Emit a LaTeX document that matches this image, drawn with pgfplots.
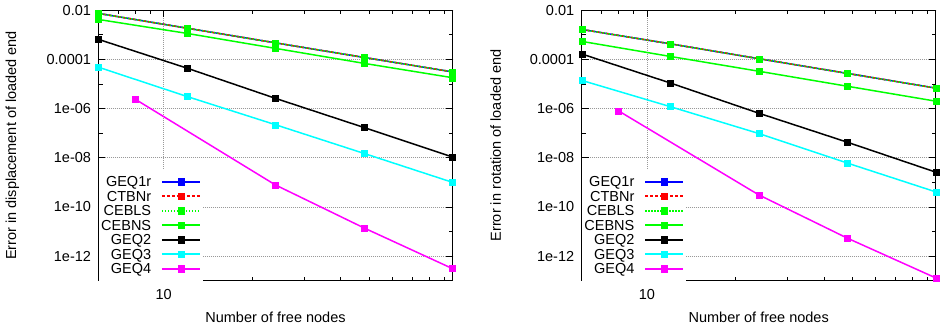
\documentclass[border=0pt]{standalone}
\usepackage{fontspec}
\setmainfont{Liberation Sans}
\usepackage{pgfplots}
\pgfplotsset{compat=1.18}
\newcommand\f{\fontsize{14.5}{17}\selectfont}
\definecolor{gblue}{RGB}{0,0,255}
\definecolor{gred}{RGB}{255,0,0}
\definecolor{ggreen}{RGB}{0,255,0}
\definecolor{gcyan}{RGB}{0,255,255}
\definecolor{gmag}{RGB}{255,0,255}
\pgfplotsset{
  every axis plot/.append style={line width=1.5pt, mark=square*, mark size=3pt, mark options={solid, line width=0.3pt}},
  every tick/.style={black, line width=0.8pt},
}
\begin{document}
\begin{tikzpicture}
\useasboundingbox (0,0) rectangle (942pt,326pt);
\begin{axis}[
    at={(98.5pt,45.3pt)}, anchor=south west,
    scale only axis, width=354pt, height=270.5pt,
    xmode=log, ymode=log, xmin=6, xmax=96, ymin=1e-13, ymax=1e-2,
    xtick={10}, xticklabels={10},
    minor xtick={7,8,9,20,30,40,50,60,70,80,90},
    ytick={1e-12,1e-10,1e-8,1e-6,1e-4,1e-2},
    yticklabels={1e-12,1e-10,1e-08,1e-06,0.0001,0.01},
    minor ytick={1e-11,1e-9,1e-7,1e-5,1e-3},
    xmajorgrids, ymajorgrids,
    major grid style={gray!80, dash pattern=on 1pt off 1pt, line width=0.8pt},
    tick align=inside, major tick length=7pt, minor tick length=4pt,
    axis line style={line width=1pt},
    tick label style={font=\f},
    yticklabel style={xshift=-4pt},
    xticklabel style={yshift=-5pt},
    label style={font=\f},
    xlabel={Number of free nodes},
    xlabel style={at={(axis description cs:0.5,-0.134)}, anchor=center},
    ylabel style={at={(axis description cs:-0.2433,0.5)}, anchor=center},
    ylabel={Error in displacement of loaded end},
    legend style={at={(axis description cs:0,0)}, anchor=south west, draw=none, fill=white,
      font=\f, inner xsep=2.5pt, inner ysep=4.5pt, row sep=0pt, column sep=10pt,
      nodes={inner sep=0pt, text height=12.45pt, text depth=2.05pt}},
    legend cell align=right, legend plot pos=right,
    legend image code/.code={\draw[mark repeat=2,mark phase=2,#1,line width=1.6pt,mark size=3.3pt] plot coordinates {(0pt,0pt) (19pt,0pt) (38pt,0pt)};},
  ]
\addplot[gblue] coordinates {(6,7.4e-3)(12,1.86e-3)(24,4.7e-4)(48,1.2e-4)(96,3.1e-5)};
\addlegendentry{GEQ1r}
\addplot[gred, dash pattern=on 3pt off 2pt] coordinates {(6,7.4e-3)(12,1.86e-3)(24,4.7e-4)(48,1.2e-4)(96,3.1e-5)};
\addlegendentry{CTBNr}
\addplot[ggreen, dash pattern=on 1.5pt off 1.5pt] coordinates {(6,7.4e-3)(12,1.86e-3)(24,4.7e-4)(48,1.2e-4)(96,3.1e-5)};
\addlegendentry{CEBLS}
\addplot[ggreen] coordinates {(6,4.2e-3)(12,1.14e-3)(24,2.8e-4)(48,6.9e-5)(96,1.8e-5)};
\addlegendentry{CEBNS}
\addplot[black] coordinates {(6,6.5e-4)(12,4.4e-5)(24,2.6e-6)(48,1.7e-7)(96,1.07e-8)};
\addlegendentry{GEQ2}
\addplot[gcyan] coordinates {(6,4.8e-5)(12,3.1e-6)(24,2.2e-7)(48,1.5e-8)(96,1.0e-9)};
\addlegendentry{GEQ3}
\addplot[gmag] coordinates {(8,2.4e-6)(24,7.8e-10)(48,1.4e-11)(96,3.1e-13)};
\addlegendentry{GEQ4}
\end{axis}
\begin{axis}[
    at={(581.7pt,45.3pt)}, anchor=south west,
    scale only axis, width=354pt, height=270.5pt,
    xmode=log, ymode=log, xmin=6, xmax=96, ymin=1e-13, ymax=1e-2,
    xtick={10}, xticklabels={10},
    minor xtick={7,8,9,20,30,40,50,60,70,80,90},
    ytick={1e-12,1e-10,1e-8,1e-6,1e-4,1e-2},
    yticklabels={1e-12,1e-10,1e-08,1e-06,0.0001,0.01},
    minor ytick={1e-11,1e-9,1e-7,1e-5,1e-3},
    xmajorgrids, ymajorgrids,
    major grid style={gray!80, dash pattern=on 1pt off 1pt, line width=0.8pt},
    tick align=inside, major tick length=7pt, minor tick length=4pt,
    axis line style={line width=1pt},
    tick label style={font=\f},
    yticklabel style={xshift=-4pt},
    xticklabel style={yshift=-5pt},
    label style={font=\f},
    xlabel={Number of free nodes},
    xlabel style={at={(axis description cs:0.5,-0.134)}, anchor=center},
    ylabel style={at={(axis description cs:-0.2433,0.5)}, anchor=center},
    ylabel={Error in rotation of loaded end},
    legend style={at={(axis description cs:0,0)}, anchor=south west, draw=none, fill=white,
      font=\f, inner xsep=2.5pt, inner ysep=4.5pt, row sep=0pt, column sep=10pt,
      nodes={inner sep=0pt, text height=12.45pt, text depth=2.05pt}},
    legend cell align=right, legend plot pos=right,
    legend image code/.code={\draw[mark repeat=2,mark phase=2,#1,line width=1.6pt,mark size=3.3pt] plot coordinates {(0pt,0pt) (19pt,0pt) (38pt,0pt)};},
  ]
\addplot[gblue] coordinates {(6,1.65e-3)(12,4.3e-4)(24,1.07e-4)(48,2.7e-5)(96,6.8e-6)};
\addlegendentry{GEQ1r}
\addplot[gred, dash pattern=on 3pt off 2pt] coordinates {(6,1.65e-3)(12,4.3e-4)(24,1.07e-4)(48,2.7e-5)(96,6.8e-6)};
\addlegendentry{CTBNr}
\addplot[ggreen, dash pattern=on 1.5pt off 1.5pt] coordinates {(6,1.65e-3)(12,4.3e-4)(24,1.07e-4)(48,2.7e-5)(96,6.8e-6)};
\addlegendentry{CEBLS}
\addplot[ggreen] coordinates {(6,5.4e-4)(12,1.32e-4)(24,3.3e-5)(48,8.1e-6)(96,2.0e-6)};
\addlegendentry{CEBNS}
\addplot[black] coordinates {(6,1.66e-4)(12,1.1e-5)(24,6.5e-7)(48,4.3e-8)(96,2.6e-9)};
\addlegendentry{GEQ2}
\addplot[gcyan] coordinates {(6,1.4e-5)(12,1.2e-6)(24,9.7e-8)(48,6.1e-9)(96,4.1e-10)};
\addlegendentry{GEQ3}
\addplot[gmag] coordinates {(8,8.1e-7)(24,3.1e-10)(48,5.4e-12)(96,1.3e-13)};
\addlegendentry{GEQ4}
\end{axis}
\end{tikzpicture}
\end{document}
